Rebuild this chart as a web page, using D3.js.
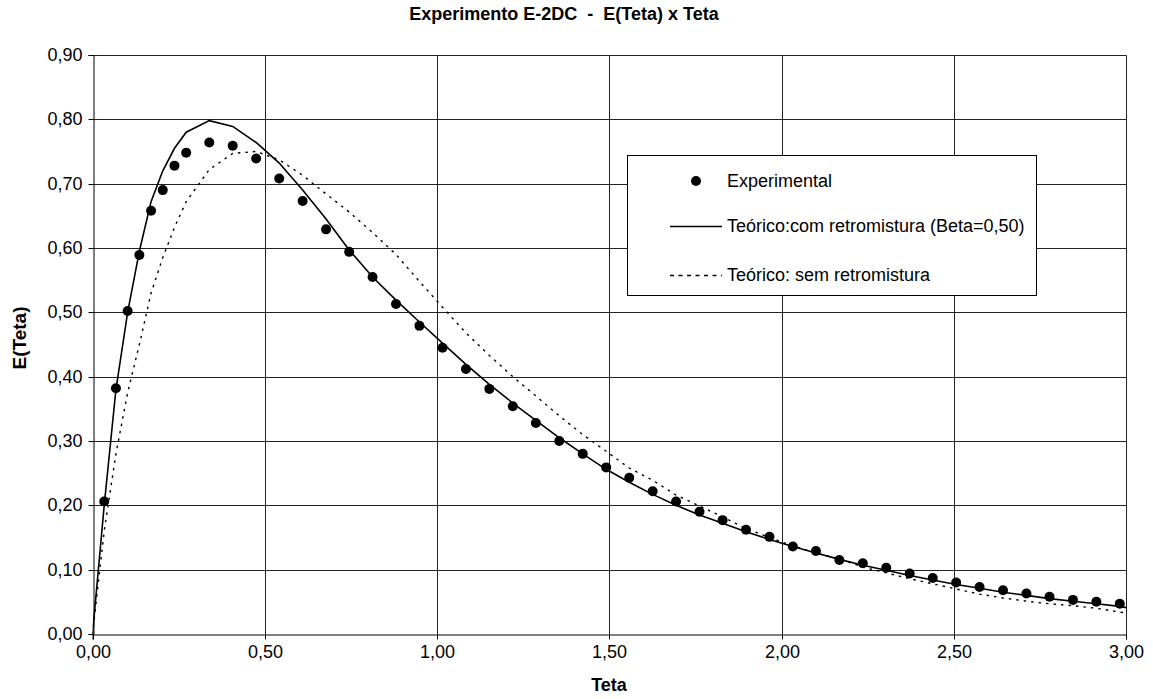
<!DOCTYPE html>
<html>
<head>
<meta charset="utf-8">
<script src="https://cdn.jsdelivr.net/npm/d3@7"></script>
<style>
  html, body { margin: 0; padding: 0; background: #fff; }
  svg { display: block; font-family: "Liberation Sans", Arial, sans-serif; }
</style>
</head>
<body>
<svg id="chart" width="1153" height="699"></svg>
<script>
// ---- Data ----
const expTheta = [0.034, 0.068, 0.102, 0.136, 0.170, 0.204, 0.238, 0.272, 0.339, 0.407, 0.475, 0.542, 0.610, 0.678, 0.745, 0.813, 0.881, 0.949, 1.016, 1.084, 1.152, 1.220, 1.287, 1.355, 1.423, 1.491, 1.558, 1.626, 1.694, 1.762, 1.829, 1.897, 1.965, 2.033, 2.100, 2.168, 2.236, 2.304, 2.372, 2.439, 2.507, 2.575, 2.643, 2.711, 2.778, 2.846, 2.914, 2.982];
const expE = [0.206, 0.382, 0.502, 0.589, 0.658, 0.690, 0.728, 0.748, 0.764, 0.759, 0.739, 0.708, 0.673, 0.629, 0.594, 0.555, 0.513, 0.479, 0.445, 0.412, 0.381, 0.354, 0.328, 0.300, 0.280, 0.259, 0.243, 0.222, 0.206, 0.190, 0.177, 0.162, 0.151, 0.136, 0.129, 0.115, 0.110, 0.103, 0.094, 0.087, 0.080, 0.073, 0.068, 0.063, 0.058, 0.053, 0.050, 0.047];

const modelTheta = [0, 0.034, 0.068, 0.102, 0.136, 0.170, 0.204, 0.238, 0.272, 0.339, 0.407, 0.475, 0.542, 0.610, 0.678, 0.745, 0.813, 0.881, 0.949, 1.016, 1.084, 1.152, 1.220, 1.287, 1.355, 1.423, 1.491, 1.558, 1.626, 1.694, 1.762, 1.829, 1.897, 1.965, 2.033, 2.100, 2.168, 2.236, 2.304, 2.372, 2.439, 2.507, 2.575, 2.643, 2.711, 2.778, 2.846, 2.914, 2.982, 3.0];
const comRetroE = [0, 0.200, 0.380, 0.500, 0.595, 0.672, 0.720, 0.755, 0.780, 0.798, 0.789, 0.764, 0.732, 0.690, 0.645, 0.597, 0.555, 0.519, 0.485, 0.452, 0.419, 0.388, 0.359, 0.332, 0.305, 0.280, 0.256, 0.236, 0.217, 0.200, 0.185, 0.172, 0.159, 0.147, 0.136, 0.126, 0.116, 0.107, 0.099, 0.091, 0.084, 0.077, 0.071, 0.065, 0.060, 0.055, 0.051, 0.047, 0.043, 0.041];
const semRetroE = [0, 0.160, 0.280, 0.375, 0.450, 0.530, 0.585, 0.632, 0.672, 0.722, 0.747, 0.750, 0.737, 0.713, 0.684, 0.656, 0.624, 0.590, 0.548, 0.508, 0.468, 0.433, 0.400, 0.370, 0.339, 0.310, 0.284, 0.258, 0.239, 0.216, 0.199, 0.182, 0.164, 0.150, 0.137, 0.126, 0.117, 0.104, 0.095, 0.086, 0.078, 0.070, 0.062, 0.056, 0.051, 0.047, 0.044, 0.040, 0.034, 0.033];

const xTicks = [0, 0.5, 1.0, 1.5, 2.0, 2.5, 3.0];
const yTicks = [0, 0.1, 0.2, 0.3, 0.4, 0.5, 0.6, 0.7, 0.8, 0.9];
const legendLabels = ["Experimental", "Teórico:com retromistura (Beta=0,50)", "Teórico: sem retromistura"];
const titleText = "Experimento E-2DC  -  E(Teta) x Teta";
const xTitle = "Teta";
const yTitle = "E(Teta)";

// ---- Layout ----
const svg = d3.select("#chart");
const plot = { left: 92.5, right: 1126, top: 55, bottom: 634 };
const x = d3.scaleLinear().domain([0, 3]).range([plot.left, plot.right]);
const y = d3.scaleLinear().domain([0, 0.9]).range([plot.bottom, plot.top]);
const fmt = v => d3.format(".2f")(v).replace(".", ",");
const crisp = v => Math.round(v) + 0.5;

// gridlines
const grid = svg.append("g");
grid.selectAll("line.h").data(yTicks.slice(1)).join("line")
  .attr("x1", crisp(plot.left)).attr("x2", crisp(plot.right))
  .attr("y1", d => crisp(y(d))).attr("y2", d => crisp(y(d)))
  .attr("stroke", "#222").attr("stroke-width", 1);
grid.selectAll("line.v").data(xTicks.slice(1)).join("line")
  .attr("y1", crisp(plot.top)).attr("y2", crisp(plot.bottom))
  .attr("x1", d => crisp(x(d))).attr("x2", d => crisp(x(d)))
  .attr("stroke", "#222").attr("stroke-width", 1);

// axes
const xAxis = d3.axisBottom(x).tickValues(xTicks).tickFormat(fmt).tickSize(5).tickPadding(6);
const yAxis = d3.axisLeft(y).tickValues(yTicks).tickFormat(fmt).tickSize(5).tickPadding(6);
const gx = svg.append("g").attr("transform", `translate(0,${crisp(plot.bottom)})`).call(xAxis);
const gy = svg.append("g").attr("transform", `translate(${crisp(plot.left)},0)`).call(yAxis);
[gx, gy].forEach(g => {
  g.select(".domain").attr("stroke", "#000");
  g.selectAll(".tick line").attr("stroke", "#000");
  g.selectAll(".tick text").attr("fill", "#000")
    .style("font-family", '"Liberation Sans", Arial, sans-serif').style("font-size", "18px");
});
gx.selectAll(".tick").attr("transform", d => `translate(${crisp(x(d))},0)`);
gy.selectAll(".tick").attr("transform", d => `translate(0,${crisp(y(d))})`);

// lines
const line = d3.line().x(d => x(d[0])).y(d => y(d[1]));
svg.append("defs").append("clipPath").attr("id", "clip")
  .append("rect").attr("x", plot.left).attr("y", plot.top - 5)
  .attr("width", plot.right - plot.left + 2).attr("height", plot.bottom - plot.top + 5);
const lines = svg.append("g").attr("clip-path", "url(#clip)");
lines.append("path").datum(modelTheta.map((t, i) => [t, semRetroE[i]]))
  .attr("d", line).attr("fill", "none").attr("stroke", "#000")
  .attr("stroke-width", 1.4).attr("stroke-dasharray", "2.5,5");
lines.append("path").datum(modelTheta.map((t, i) => [t, comRetroE[i]]))
  .attr("d", line).attr("fill", "none").attr("stroke", "#000")
  .attr("stroke-width", 1.6);

// experimental points
svg.append("g").selectAll("circle").data(expTheta.map((t, i) => [t, expE[i]])).join("circle")
  .attr("cx", d => x(d[0])).attr("cy", d => y(d[1])).attr("r", 5).attr("fill", "#000");

// title & axis titles
svg.append("text").attr("x", 564).attr("y", 20).attr("text-anchor", "middle")
  .attr("font-size", 18).attr("font-weight", "bold").style("white-space", "pre")
  .attr("xml:space", "preserve").text(titleText);
svg.append("text").attr("x", 609).attr("y", 691).attr("text-anchor", "middle")
  .attr("font-size", 18).attr("font-weight", "bold").text(xTitle);
svg.append("text").attr("transform", "translate(26,338) rotate(-90)").attr("text-anchor", "middle")
  .attr("font-size", 19).attr("font-weight", "bold").text(yTitle);

// legend
const lg = svg.append("g");
lg.append("rect").attr("x", 627.5).attr("y", 155.5).attr("width", 409).attr("height", 140)
  .attr("fill", "#fff").attr("stroke", "#000").attr("stroke-width", 1);
const rowY = [181, 226, 275];
lg.append("circle").attr("cx", 696).attr("cy", rowY[0]).attr("r", 5).attr("fill", "#000");
lg.append("line").attr("x1", 670).attr("x2", 722).attr("y1", rowY[1] + 0.5).attr("y2", rowY[1] + 0.5)
  .attr("stroke", "#000").attr("stroke-width", 1.6);
lg.append("line").attr("x1", 670).attr("x2", 722).attr("y1", rowY[2] + 0.5).attr("y2", rowY[2] + 0.5)
  .attr("stroke", "#000").attr("stroke-width", 1.4).attr("stroke-dasharray", "4,4.5");
lg.selectAll("text.l").data(legendLabels).join("text")
  .attr("x", 727).attr("y", (d, i) => rowY[i]).attr("dy", "0.35em")
  .attr("font-size", 18).text(d => d);
</script>
</body>
</html>
